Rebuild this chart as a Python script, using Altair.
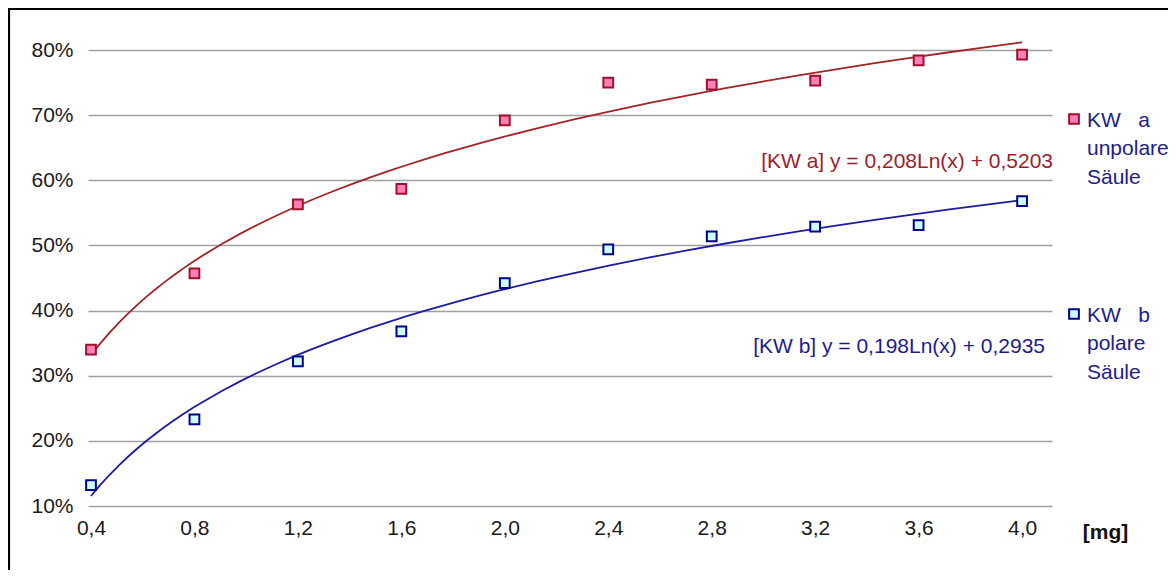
import altair as alt
import pandas as pd

# ---------------- data ----------------
doses = [0.4, 0.8, 1.2, 1.6, 2.0, 2.4, 2.8, 3.2, 3.6, 4.0]
kw_a = [0.340, 0.457, 0.563, 0.587, 0.692, 0.750, 0.747, 0.753, 0.784, 0.793]
kw_b = [0.132, 0.233, 0.322, 0.368, 0.442, 0.494, 0.514, 0.529, 0.531, 0.568]
series_keys = ["KW a", "KW b"]
legend_lines = [["KW\u00a0\u00a0\u00a0a", "unpolare", "Säule"],
                ["KW\u00a0\u00a0\u00a0b", "polare", "Säule"]]
equations = ["[KW a] y = 0,208Ln(x) + 0,5203", "[KW b] y = 0,198Ln(x) + 0,2935"]
y_ticks = [0.1, 0.2, 0.3, 0.4, 0.5, 0.6, 0.7, 0.8]
x_title = "[mg]"

# ---------------- styling ----------------
FONT = "Liberation Sans"
FS = 21
marker_fill = ["#ff80b4", "#ccffff"]
marker_stroke = ["#a0102c", "#00008c"]
line_color = ["#a02428", "#1c1ca0"]
text_color = ["#a01c2c", "#1c1c90"]
legend_text_color = "#20208a"

W, H = 964, 456

df = pd.DataFrame({
    "x": doses * 2,
    "y": kw_a + kw_b,
    "series": [series_keys[0]] * len(doses) + [series_keys[1]] * len(doses),
})

x_enc = alt.X(
    "x:Q",
    scale=alt.Scale(domain=[0.3884, 4.1157], nice=False, zero=False),
    axis=alt.Axis(
        values=doses,
        labelExpr="replace(format(datum.value, '.1f'), '.', ',')",
        grid=False, domain=False, ticks=False, labelFlush=False,
        labelOverlap=False, labelPadding=11, labelFontSize=FS, labelFont=FONT,
        labelColor="#1a1a1a",
        title=x_title, titleFont=FONT, titleFontSize=FS, titleFontWeight="bold",
        titleColor="#111111", titleX=1017, titleY=26, titleAlign="center",
        titleBaseline="middle",
    ),
)
y_enc = alt.Y(
    "y:Q",
    scale=alt.Scale(domain=[0.1, 0.8], nice=False, zero=False),
    axis=alt.Axis(
        values=y_ticks, format=".0%", grid=True, gridColor="#a0a0a0",
        gridWidth=1.6, domain=False, ticks=False, labelPadding=15,
        labelFontSize=FS, labelFont=FONT, labelColor="#1a1a1a", title=None,
    ),
)

fill_scale = alt.Scale(domain=series_keys, range=marker_fill)
stroke_scale = alt.Scale(domain=series_keys, range=marker_stroke)
line_scale = alt.Scale(domain=series_keys, range=line_color)

base = alt.Chart(df)

trend = base.transform_regression(
    "x", "y", method="log", groupby=["series"]
).mark_line(strokeWidth=1.8, clip=False).encode(
    x=x_enc, y=y_enc,
    color=alt.Color("series:N", scale=line_scale, legend=None),
)

points = base.mark_square(size=95, strokeWidth=2, opacity=1).encode(
    x=x_enc, y=y_enc,
    fill=alt.Fill("series:N", scale=fill_scale, legend=None),
    stroke=alt.Stroke("series:N", scale=stroke_scale, legend=None),
)

# trendline equations
eq_a = alt.Chart(pd.DataFrame({"t": [equations[0]]})).mark_text(
    align="right", baseline="alphabetic", font=FONT, fontSize=FS, color=text_color[0]
).encode(text="t:N", x=alt.value(965), y=alt.value(118))
eq_b = alt.Chart(pd.DataFrame({"t": [equations[1]]})).mark_text(
    align="right", baseline="alphabetic", font=FONT, fontSize=FS, color=text_color[1]
).encode(text="t:N", x=alt.value(957), y=alt.value(303))

# legend (symbols + multi-line labels)
leg_layers = []
sym_y = [69, 264]
for i in range(2):
    sym = alt.Chart(pd.DataFrame({"s": [series_keys[i]]})).mark_square(
        size=95, strokeWidth=2, fill=marker_fill[i], stroke=marker_stroke[i], opacity=1
    ).encode(x=alt.value(986), y=alt.value(sym_y[i]))
    lab = alt.Chart(pd.DataFrame({"t": [legend_lines[i]]})).mark_text(
        align="left", baseline="alphabetic", font=FONT, fontSize=FS,
        lineHeight=28.5, color=legend_text_color
    ).encode(text="t", x=alt.value(999), y=alt.value(sym_y[i] + 7.5))
    leg_layers += [sym, lab]

# outer frame (top and left edges visible)
frame_top = alt.Chart(pd.DataFrame({"k": [0]})).mark_rule(
    color="#000000", strokeWidth=2.2
).encode(x=alt.value(-79), x2=alt.value(1090), y=alt.value(-41))
frame_left = alt.Chart(pd.DataFrame({"k": [0]})).mark_rule(
    color="#000000", strokeWidth=2.2
).encode(x=alt.value(-79), y=alt.value(-42), y2=alt.value(530))

chart = alt.layer(
    trend, points, eq_a, eq_b, *leg_layers, frame_top, frame_left
).resolve_scale(
    color="independent", fill="independent", stroke="independent"
).properties(
    width=W, height=H,
    autosize=alt.AutoSizeParams(type="none"),
    padding={"left": 80, "top": 42, "right": 116, "bottom": 64},
    background="#ffffff",
).configure_view(stroke=None)

chart.save("out.html", embed_options={"renderer": "svg", "actions": False})
